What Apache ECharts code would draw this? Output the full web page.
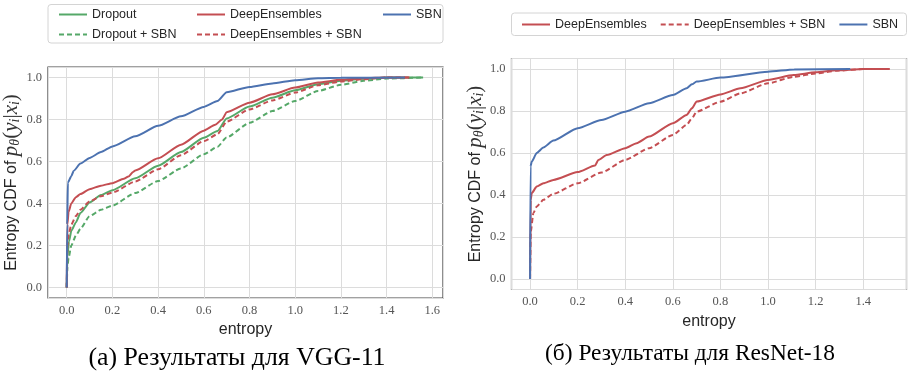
<!DOCTYPE html>
<html>
<head>
<meta charset="utf-8">
<script src="https://cdn.jsdelivr.net/npm/echarts@6/dist/echarts.min.js"></script>
<style>
  html, body { margin: 0; padding: 0; background: #fff; }
  #chart { width: 908px; height: 381px; }
</style>
</head>
<body>
<div id="chart"></div>
<script>
// (а) VGG-11 — [entropy, CDF] pairs
const vggDropout = [[0, 0], [0.003, 0.15], [0.01, 0.22], [0.02, 0.27], [0.04, 0.31], [0.06, 0.355], [0.1, 0.405], [0.15, 0.44], [0.2, 0.463], [0.3, 0.52], [0.4, 0.58], [0.5, 0.645], [0.6, 0.713], [0.66, 0.745], [0.7, 0.805], [0.8, 0.862], [0.9, 0.904], [1.0, 0.939], [1.1, 0.968], [1.2, 0.984], [1.3, 0.994], [1.4, 1.0], [1.56, 1.0]]
const vggDropoutSbn = [[0, 0], [0.003, 0.1], [0.008, 0.14], [0.02, 0.2], [0.04, 0.247], [0.06, 0.28], [0.1, 0.34], [0.15, 0.37], [0.2, 0.39], [0.3, 0.45], [0.4, 0.507], [0.5, 0.567], [0.6, 0.634], [0.66, 0.67], [0.7, 0.715], [0.8, 0.784], [0.9, 0.84], [1.0, 0.888], [1.1, 0.936], [1.2, 0.965], [1.3, 0.984], [1.4, 0.995], [1.56, 1.0]]
const vggEnsembles = [[0, 0], [0.003, 0.3], [0.008, 0.36], [0.02, 0.4], [0.04, 0.43], [0.06, 0.445], [0.1, 0.468], [0.15, 0.485], [0.2, 0.497], [0.25, 0.518], [0.27, 0.528], [0.29, 0.55], [0.3, 0.557], [0.4, 0.615], [0.5, 0.68], [0.6, 0.747], [0.65, 0.775], [0.68, 0.8], [0.7, 0.835], [0.8, 0.88], [0.9, 0.92], [1.0, 0.952], [1.1, 0.976], [1.2, 0.989], [1.3, 0.997], [1.4, 1.0], [1.5, 1.0]]
const vggEnsemblesSbn = [[0, 0], [0.003, 0.2], [0.008, 0.25], [0.02, 0.3], [0.04, 0.34], [0.06, 0.37], [0.1, 0.41], [0.15, 0.435], [0.2, 0.452], [0.3, 0.505], [0.4, 0.563], [0.5, 0.63], [0.6, 0.697], [0.66, 0.73], [0.7, 0.79], [0.8, 0.848], [0.9, 0.891], [1.0, 0.928], [1.1, 0.963], [1.2, 0.981], [1.3, 0.992], [1.4, 1.0], [1.5, 1.0]]
const vggSbn = [[0, 0], [0.002, 0.3], [0.005, 0.5], [0.02, 0.53], [0.03, 0.555], [0.06, 0.59], [0.1, 0.617], [0.15, 0.645], [0.2, 0.672], [0.3, 0.72], [0.4, 0.77], [0.5, 0.815], [0.6, 0.86], [0.66, 0.888], [0.7, 0.93], [0.8, 0.955], [0.9, 0.972], [1.0, 0.987], [1.1, 0.997], [1.2, 0.999], [1.48, 1.0]]

// (б) ResNet-18
const resEnsembles = [[0, 0], [0.003, 0.377], [0.007, 0.409], [0.028, 0.44], [0.056, 0.456], [0.098, 0.472], [0.2, 0.509], [0.273, 0.54], [0.287, 0.567], [0.322, 0.59], [0.4, 0.623], [0.448, 0.647], [0.5, 0.678], [0.6, 0.742], [0.658, 0.781], [0.68, 0.813], [0.7, 0.845], [0.8, 0.879], [0.884, 0.908], [1.0, 0.948], [1.108, 0.971], [1.2, 0.984], [1.29, 0.994], [1.4, 1.0], [1.512, 1.0]]
const resEnsemblesSbn = [[0, 0], [0.003, 0.227], [0.014, 0.314], [0.028, 0.345], [0.056, 0.377], [0.098, 0.406], [0.2, 0.456], [0.3, 0.507], [0.4, 0.567], [0.5, 0.623], [0.6, 0.686], [0.658, 0.734], [0.68, 0.765], [0.7, 0.797], [0.8, 0.844], [0.884, 0.884], [1.0, 0.932], [1.108, 0.963], [1.2, 0.979], [1.29, 0.992], [1.4, 1.0], [1.5, 1.0]]
const resSbn = [[0, 0], [0.002, 0.536], [0.007, 0.559], [0.028, 0.6], [0.056, 0.626], [0.098, 0.659], [0.2, 0.718], [0.3, 0.757], [0.4, 0.797], [0.5, 0.837], [0.6, 0.876], [0.658, 0.908], [0.68, 0.927], [0.7, 0.94], [0.8, 0.959], [1.0, 0.987], [1.11, 0.998], [1.346, 1.0]]

const tickFont = 'Liberation Serif'
const sansFont = 'Liberation Sans'
const green = '#55A868'
const red = '#C44E52'
const blue = '#4C72B0'

const chart = echarts.init(document.getElementById('chart'), null, { renderer: 'canvas' })

function line(name, data, color, dashed, idx) {
  return {
    name,
    type: 'line',
    xAxisIndex: idx,
    yAxisIndex: idx,
    data,
    symbol: 'none',
    showSymbol: false,
    smooth: 0.2,
    smoothMonotone: 'x',
    lineStyle: { color, width: 2, type: dashed ? [5, 3] : 'solid' },
    itemStyle: { color },
    emphasis: { disabled: true },
  }
}

function xAxis(idx, min, max) {
  return {
    gridIndex: idx,
    type: 'value',
    min,
    max,
    splitNumber: 8,
    minInterval: 0.2,
    maxInterval: 0.2,
    axisLine: { show: false },
    axisTick: { show: false },
    axisLabel: {
      showMinLabel: false,
      showMaxLabel: false,
      formatter: (v) => v.toFixed(1),
      fontFamily: tickFont,
      fontSize: 12.5,
      color: '#555',
      margin: 6,
    },
    splitLine: { lineStyle: { color: '#dcdcdc', width: 1 } },
    name: 'entropy',
    nameLocation: 'middle',
    nameGap: 20,
    nameTextStyle: { fontFamily: sansFont, fontSize: 16, color: '#262626' },
  }
}

function yAxis(idx) {
  return {
    gridIndex: idx,
    type: 'value',
    min: -0.05,
    max: 1.05,
    splitNumber: 5,
    minInterval: 0.2,
    maxInterval: 0.2,
    axisLine: { show: false },
    axisTick: { show: false },
    axisLabel: {
      showMinLabel: false,
      showMaxLabel: false,
      formatter: (v) => v.toFixed(1),
      fontFamily: tickFont,
      fontSize: 12.5,
      color: '#555',
      margin: 6,
    },
    splitLine: { lineStyle: { color: '#dcdcdc', width: 1 } },
    name: '{a|Entropy CDF of }{m|p}{s|θ}{r|(}{m|y}{s|i}{r||}{m|x}{s|i}{r|)}',
    nameLocation: 'middle',
    nameRotate: 90,
    nameGap: 23,
    nameTextStyle: {
      color: '#262626',
      rich: {
        a: { fontFamily: sansFont, fontSize: 16, color: '#262626' },
        m: { fontFamily: tickFont, fontStyle: 'italic', fontSize: 21, color: '#333' },
        s: { fontFamily: tickFont, fontStyle: 'italic', fontSize: 14, color: '#333', verticalAlign: 'bottom' },
        r: { fontFamily: tickFont, fontSize: 21, color: '#333' },
      },
    },
  }
}

const legendText = { fontFamily: sansFont, fontSize: 12.5, color: '#262626' }
const legendBase = {
  orient: 'vertical',
  top: 3,
  itemGap: 7,
  itemWidth: 28,
  itemHeight: 14,
  selectedMode: false,
  itemStyle: { opacity: 0, color: 'transparent', borderWidth: 0 },
  textStyle: legendText,
}

const option = {
  animation: false,
  grid: [
    { left: 48, top: 67, width: 395, height: 231, show: true, borderColor: '#444', borderWidth: 1.2, backgroundColor: '#fff' },
    { left: 511.5, top: 58.5, width: 395, height: 231, show: true, borderColor: '#444', borderWidth: 1.2, backgroundColor: '#fff' },
  ],
  xAxis: [xAxis(0, -0.082, 1.647), xAxis(1, -0.078, 1.582)],
  yAxis: [yAxis(0), yAxis(1)],
  legend: [
    { ...legendBase, left: 53, data: ['Dropout', 'Dropout + SBN'] },
    { ...legendBase, left: 191, data: ['DeepEnsembles', 'DeepEnsembles + SBN'] },
    { ...legendBase, left: 377, data: ['SBN'] },
    { ...legendBase, orient: 'horizontal', left: 516, top: 13, itemGap: 13, data: ['DeepEnsembles', 'DeepEnsembles + SBN', 'SBN'] },
  ],
  graphic: [
    { type: 'rect', shape: { x: 48, y: 4.5, width: 395, height: 38.5, r: 3 }, style: { fill: '#fff', stroke: '#d4d4d4', lineWidth: 1 }, z: -1 },
    { type: 'rect', shape: { x: 511.5, y: 13, width: 395, height: 22.5, r: 3 }, style: { fill: '#fff', stroke: '#d4d4d4', lineWidth: 1 }, z: -1 },
    { type: 'text', x: 237, y: 358, style: { text: '(а) Результаты для VGG-11', font: '25.8px "Liberation Serif"', fill: '#000', align: 'center', verticalAlign: 'middle' } },
    { type: 'text', x: 690, y: 354, style: { text: '(б) Результаты для ResNet-18', font: '23.4px "Liberation Serif"', fill: '#000', align: 'center', verticalAlign: 'middle' } },
  ],
  series: [
    line('Dropout', vggDropout, green, false, 0),
    line('Dropout + SBN', vggDropoutSbn, green, true, 0),
    line('DeepEnsembles', vggEnsembles, red, false, 0),
    line('DeepEnsembles + SBN', vggEnsemblesSbn, red, true, 0),
    line('SBN', vggSbn, blue, false, 0),
    line('DeepEnsembles', resEnsembles, red, false, 1),
    line('DeepEnsembles + SBN', resEnsemblesSbn, red, true, 1),
    line('SBN', resSbn, blue, false, 1),
  ],
}

chart.setOption(option)
</script>
</body>
</html>
